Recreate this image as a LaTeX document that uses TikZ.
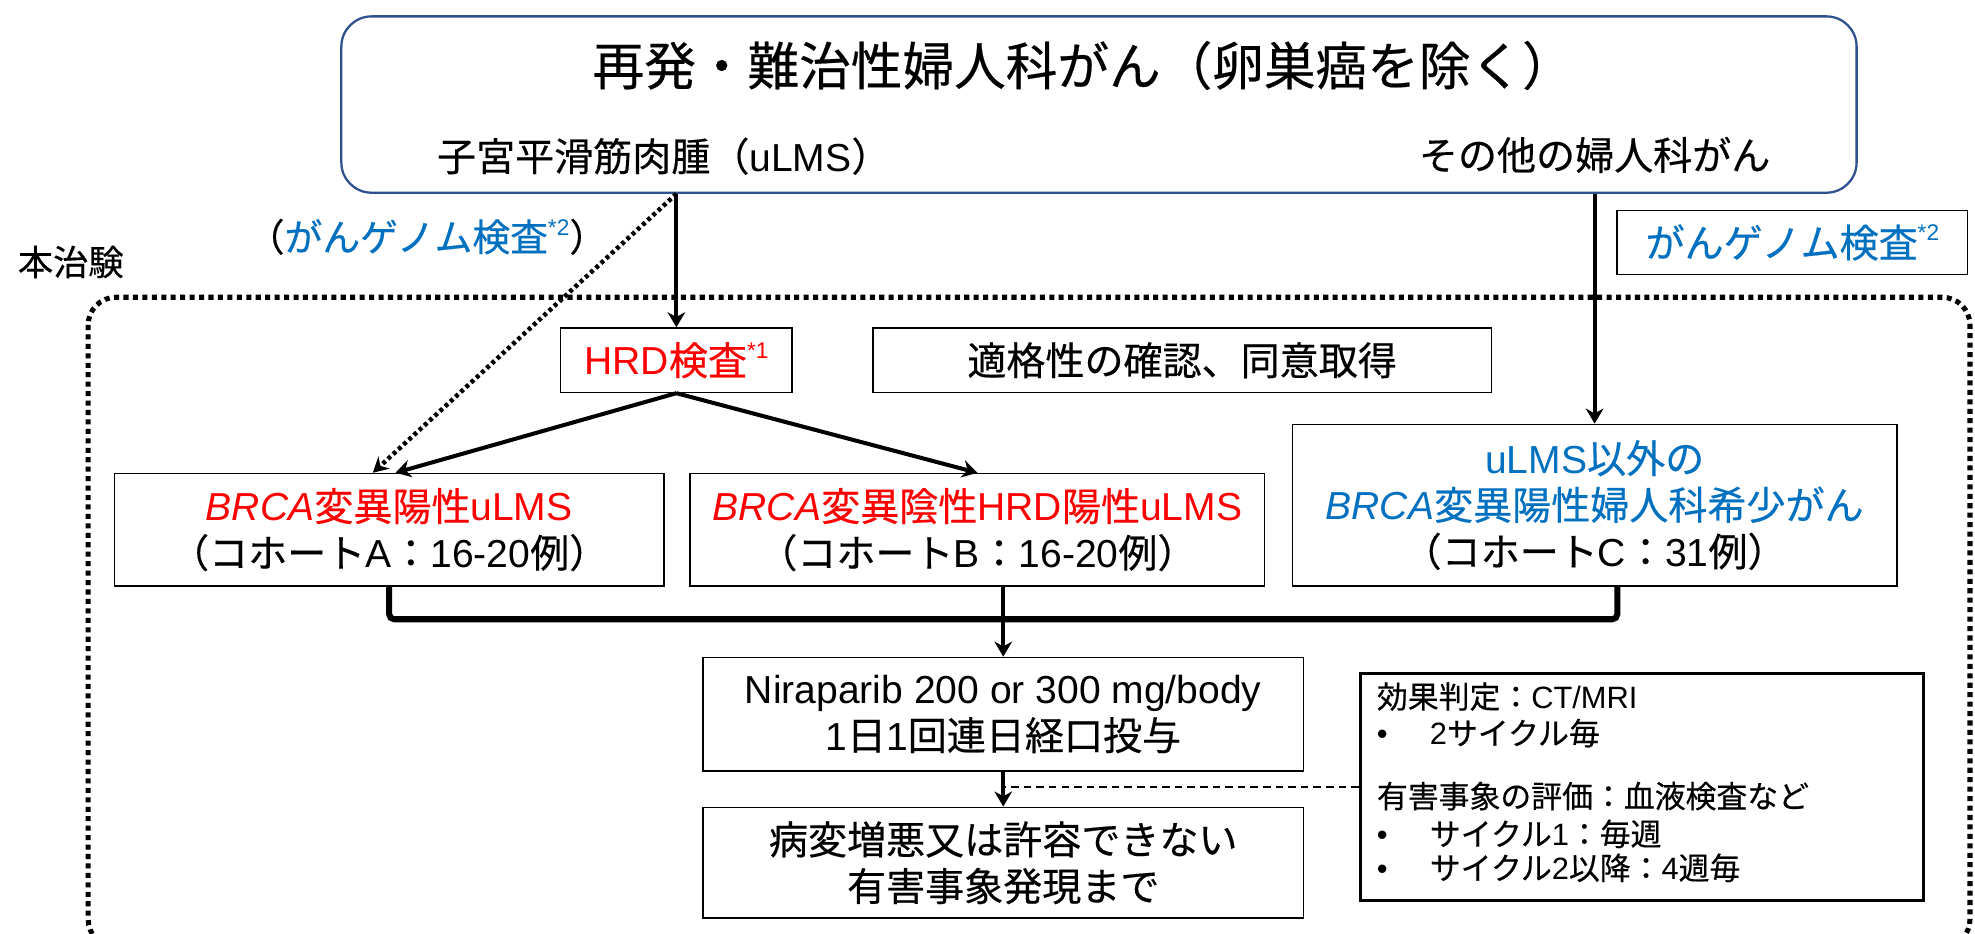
\documentclass[tikz,border=0pt]{standalone}
\usepackage{fontspec}
\setmainfont{Noto Sans CJK JP}[FakeBold=0.4]
\newfontfamily\lat{Liberation Sans}
\usetikzlibrary{arrows.meta,calc}
\definecolor{jblue}{RGB}{0,112,192}
\definecolor{jred}{RGB}{255,0,0}
\definecolor{navy}{RGB}{47,82,143}
\newcommand\mysup[1]{\raisebox{.42em}{\lat\fontsize{18}{18}\selectfont #1}}
\begin{document}
\begin{tikzpicture}[x=1pt,y=-1pt,
  every node/.style={font=\fontsize{31}{37}\selectfont, inner sep=0pt},
  bx/.style={draw=black, line width=1.3pt, align=center},
  topbox/.style={draw=navy, line width=1.8pt, rounded corners=24pt},
  arr/.style={line width=3.2pt, -{Stealth[length=12pt,width=14pt]}},
  darr/.style={line width=3.6pt, dash pattern=on 3pt off 2.6pt, -{Stealth[length=12pt,width=13pt]}},
  merge/.style={line width=4.8pt, rounded corners=4pt},
  frame/.style={line width=4pt, dash pattern=on 4pt off 3.5pt, rounded corners=22pt},
  small/.style={font=\fontsize{24.5}{29}\selectfont, anchor=west}
]
\useasboundingbox (0,0) rectangle (1568,741);
\fill[white] (0,0) rectangle (1568,741);
\clip (0,0) rectangle (1568,741);

% top box
\node[topbox, minimum width=1203pt, minimum height=140pt] (top) at (872.5,83) {};
\node[font=\fontsize{41}{49}\selectfont] (title) at (860,52) {再発・難治性婦人科がん（卵巣癌を除く）};
\node (ulms) at (527,124) {子宮平滑筋肉腫（{\lat uLMS}）};
\node (other) at (1266,123) {その他の婦人科がん};

% labels
\node[font=\fontsize{30}{35}\selectfont] (gen) at (339,188) {（{\color{jblue}がんゲノム検査\mysup{*2}}）};
\node[font=\fontsize{28}{34}\selectfont, anchor=west] (honchi) at (14,208) {本治験};
\node[bx, minimum width=278pt, minimum height=51pt, text=jblue] (gbox) at (1423,192.5) {がんゲノム検査\mysup{*2}};

% dotted frame
\draw[frame] (70,236) rectangle (1564,752);

% boxes
\node[bx, minimum width=184pt, minimum height=51pt, text=jred] (hrd) at (537,286) {{\lat HRD}検査\mysup{*1}};
\node[bx, minimum width=491pt, minimum height=51pt] (elig) at (938.5,286) {適格性の確認、同意取得};
\node[bx, minimum width=436pt, minimum height=89pt] (cohA) at (309,420.5)
  {{\color{jred}{\lat\itshape BRCA}変異陽性{\lat uLMS}}\\（コホート{\lat A}：{\lat 16-20}例）};
\node[bx, minimum width=456pt, minimum height=89pt] (cohB) at (776,420.5)
  {{\color{jred}{\lat\itshape BRCA}変異陰性{\lat HRD}陽性{\lat uLMS}}\\（コホート{\lat B}：{\lat 16-20}例）};
\node[bx, minimum width=480pt, minimum height=128pt] (cohC) at (1266,401)
  {{\color{jblue}{\lat uLMS}以外の}\\{\color{jblue}{\lat\itshape BRCA}変異陽性婦人科希少がん}\\（コホート{\lat C}：{\lat 31}例）};
\node[bx, minimum width=477pt, minimum height=90pt] (nir) at (796.5,567)
  {{\lat Niraparib 200 or 300 mg/body}\\{\lat 1}日{\lat 1}回連日経口投与};
\node[bx, minimum width=477pt, minimum height=88pt] (end) at (796.5,685)
  {病変増悪又は許容できない\\有害事象発現まで};
\node[draw=black, line width=2.5pt, minimum width=447pt, minimum height=180pt] (info) at (1303.5,625) {};
\node[small] (i1) at (1093,553) {効果判定：{\lat CT/MRI}};
\node[small] (i2) at (1093,582) {\makebox[42pt][l]{\lat •}{\lat 2}サイクル毎};
\node[small] (i3) at (1093,632) {有害事象の評価：血液検査など};
\node[small] (i4) at (1093,662) {\makebox[42pt][l]{\lat •}サイクル{\lat 1}：毎週};
\node[small] (i5) at (1093,689) {\makebox[42pt][l]{\lat •}サイクル{\lat 2}以降：{\lat 4}週毎};

% connectors
\draw[arr] (top.south -| hrd.north) -- (hrd.north);
\draw[arr] (top.south -| cohC.north) -- (cohC.north);
\draw[darr] (top.south -| hrd.north) -- ($(cohA.north)+(-13,0)$);
\draw[arr] (hrd.south) -- ($(cohA.north)+(5,0)$);
\draw[arr] (hrd.south) -- (cohB.north);
\draw[merge] (cohA.south) -- ++(0,26) -| ($(cohC.south)+(18,0)$);
\draw[arr] (cohB.south -| nir.north) -- (nir.north);
\draw[arr] (nir.south) -- (end.north);
\draw[line width=1.6pt, dash pattern=on 6pt off 4pt] (info.west) -- (info.west -| nir.south);
\end{tikzpicture}
\end{document}
